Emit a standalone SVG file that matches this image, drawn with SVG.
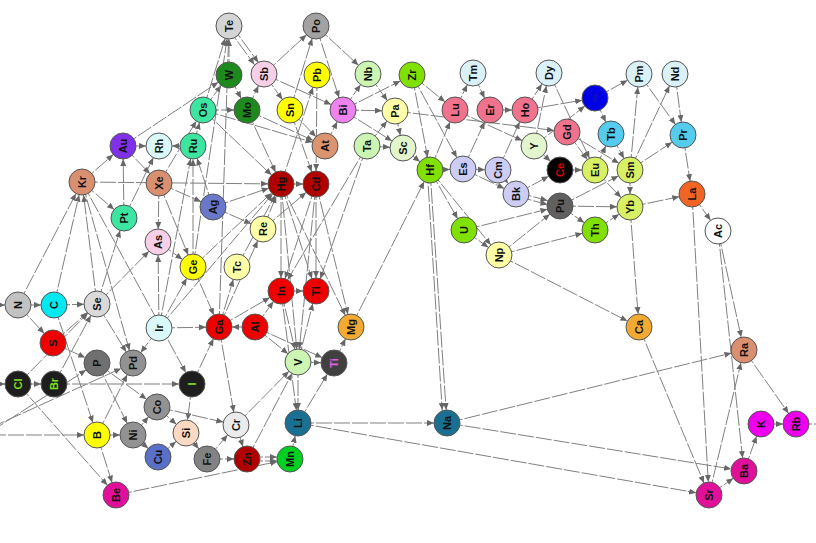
<svg xmlns="http://www.w3.org/2000/svg" width="816" height="543" viewBox="0 0 816 543">
<style>
.e line{stroke:#808080;stroke-width:1;fill:none;stroke-dasharray:16 2;marker-end:url(#a)}
.n circle{stroke:#555;stroke-width:1}
.n text{font-family:"Liberation Sans",Arial,sans-serif;font-size:11px;font-weight:bold;fill:#111;text-anchor:middle;dominant-baseline:central}
</style>
<defs>
<marker id="a" markerUnits="userSpaceOnUse" markerWidth="30" markerHeight="8" refX="20" refY="3" orient="auto"><path d="M0,0 L7,3 L0,6 z" fill="#666"/></marker>
</defs>
<rect width="816" height="543" fill="#fff"/>
<g id="connectors" class="e">
<line x1="231" y1="25" x2="266" y2="73"/><line x1="227" y1="27" x2="262" y2="75"/>
<line x1="264" y1="74" x2="316" y2="26"/>
<line x1="316" y1="26" x2="368" y2="74"/>
<line x1="316" y1="26" x2="343" y2="110"/>
<line x1="290" y1="110" x2="316" y2="26"/>
<line x1="264" y1="74" x2="343" y2="110"/>
<line x1="264" y1="74" x2="290" y2="110"/>
<line x1="229" y1="75" x2="247" y2="110"/>
<line x1="203" y1="110" x2="247" y2="110"/>
<line x1="203" y1="110" x2="229" y2="75"/>
<line x1="247" y1="110" x2="264" y2="74"/>
<line x1="229" y1="75" x2="229" y2="26"/>
<line x1="203" y1="110" x2="229" y2="26"/>
<line x1="193" y1="267" x2="229" y2="26"/>
<line x1="219" y1="327" x2="229" y2="26"/>
<line x1="123" y1="146" x2="229" y2="75"/>
<line x1="82" y1="182" x2="123" y2="146"/>
<line x1="123" y1="146" x2="159" y2="146"/>
<line x1="193" y1="146" x2="159" y2="146"/>
<line x1="123" y1="146" x2="159" y2="183"/>
<line x1="124" y1="218" x2="159" y2="146"/>
<line x1="124" y1="218" x2="123" y2="146"/>
<line x1="159" y1="183" x2="203" y2="110"/>
<line x1="213" y1="207" x2="193" y2="146"/>
<line x1="193" y1="267" x2="193" y2="146"/>
<line x1="159" y1="328" x2="193" y2="146"/>
<line x1="193" y1="146" x2="203" y2="110"/>
<line x1="203" y1="110" x2="281" y2="184"/>
<line x1="247" y1="110" x2="281" y2="184"/>
<line x1="247" y1="110" x2="325" y2="146"/>
<line x1="290" y1="110" x2="325" y2="146"/>
<line x1="203" y1="110" x2="325" y2="146"/>
<line x1="317" y1="75" x2="316" y2="184"/>
<line x1="281" y1="184" x2="317" y2="75"/>
<line x1="325" y1="146" x2="343" y2="110"/>
<line x1="290" y1="110" x2="316" y2="184"/>
<line x1="343" y1="110" x2="395" y2="111"/>
<line x1="343" y1="110" x2="368" y2="74"/>
<line x1="367" y1="146" x2="395" y2="111"/>
<line x1="367" y1="146" x2="403" y2="148"/>
<line x1="368" y1="74" x2="395" y2="111"/>
<line x1="343" y1="110" x2="412" y2="75"/>
<line x1="343" y1="110" x2="403" y2="148"/>
<line x1="395" y1="111" x2="403" y2="148"/>
<line x1="412" y1="75" x2="455" y2="110"/>
<line x1="412" y1="75" x2="463" y2="169"/>
<line x1="455" y1="110" x2="473" y2="73"/>
<line x1="473" y1="73" x2="490" y2="110"/>
<line x1="490" y1="110" x2="525" y2="110"/>
<line x1="525" y1="110" x2="549" y2="73"/>
<line x1="525" y1="110" x2="595" y2="98"/>
<line x1="455" y1="110" x2="534" y2="146"/>
<line x1="395" y1="111" x2="567" y2="132"/>
<line x1="534" y1="146" x2="549" y2="73"/>
<line x1="549" y1="73" x2="595" y2="170"/>
<line x1="534" y1="146" x2="560" y2="170"/>
<line x1="567" y1="132" x2="595" y2="170"/>
<line x1="567" y1="132" x2="630" y2="170"/>
<line x1="498" y1="170" x2="525" y2="110"/>
<line x1="463" y1="169" x2="490" y2="110"/>
<line x1="430" y1="170" x2="455" y2="110"/>
<line x1="430" y1="170" x2="463" y2="169"/>
<line x1="463" y1="169" x2="498" y2="170"/>
<line x1="412" y1="75" x2="430" y2="170"/>
<line x1="403" y1="148" x2="430" y2="170"/>
<line x1="534" y1="146" x2="595" y2="98"/>
<line x1="595" y1="98" x2="639" y2="74"/>
<line x1="595" y1="98" x2="611" y2="134"/>
<line x1="630" y1="170" x2="639" y2="74"/>
<line x1="630" y1="170" x2="675" y2="74"/>
<line x1="639" y1="74" x2="683" y2="135"/>
<line x1="675" y1="74" x2="683" y2="135"/>
<line x1="630" y1="170" x2="683" y2="135"/>
<line x1="683" y1="135" x2="692" y2="194"/>
<line x1="611" y1="134" x2="630" y2="170"/>
<line x1="595" y1="170" x2="611" y2="134"/>
<line x1="630" y1="207" x2="692" y2="194"/>
<line x1="692" y1="194" x2="718" y2="231"/>
<line x1="630" y1="207" x2="639" y2="327"/>
<line x1="718" y1="231" x2="744" y2="350"/>
<line x1="718" y1="231" x2="744" y2="471"/>
<line x1="692" y1="194" x2="709" y2="495"/>
<line x1="639" y1="327" x2="709" y2="495"/>
<line x1="709" y1="495" x2="744" y2="350"/>
<line x1="709" y1="495" x2="744" y2="471"/>
<line x1="744" y1="471" x2="761" y2="424"/>
<line x1="744" y1="350" x2="796" y2="424"/>
<line x1="761" y1="424" x2="796" y2="424"/>
<line x1="796" y1="424" x2="836" y2="424"/>
<line x1="447" y1="423" x2="744" y2="350"/>
<line x1="447" y1="423" x2="744" y2="471"/>
<line x1="298" y1="423" x2="709" y2="495"/>
<line x1="298" y1="423" x2="447" y2="423"/>
<line x1="430" y1="170" x2="447" y2="423"/>
<line x1="426" y1="150" x2="443" y2="423"/>
<line x1="499" y1="255" x2="639" y2="327"/>
<line x1="430" y1="170" x2="464" y2="230"/>
<line x1="430" y1="170" x2="499" y2="255"/>
<line x1="464" y1="230" x2="499" y2="255"/>
<line x1="464" y1="230" x2="560" y2="206"/>
<line x1="499" y1="255" x2="560" y2="206"/>
<line x1="499" y1="255" x2="595" y2="230"/>
<line x1="560" y1="206" x2="595" y2="230"/>
<line x1="516" y1="192" x2="560" y2="204"/><line x1="516" y1="196" x2="560" y2="208"/>
<line x1="560" y1="206" x2="630" y2="207"/>
<line x1="560" y1="206" x2="630" y2="170"/>
<line x1="498" y1="170" x2="516" y2="194"/>
<line x1="463" y1="169" x2="516" y2="194"/>
<line x1="516" y1="194" x2="560" y2="170"/>
<line x1="560" y1="170" x2="595" y2="170"/>
<line x1="595" y1="170" x2="630" y2="207"/>
<line x1="630" y1="170" x2="630" y2="207"/>
<line x1="595" y1="230" x2="630" y2="207"/>
<line x1="82" y1="182" x2="281" y2="184"/>
<line x1="281" y1="184" x2="316" y2="184"/>
<line x1="281" y1="184" x2="281" y2="291"/>
<line x1="281" y1="184" x2="316" y2="291"/>
<line x1="316" y1="184" x2="316" y2="291"/>
<line x1="316" y1="184" x2="281" y2="291"/>
<line x1="281" y1="291" x2="316" y2="291"/>
<line x1="255" y1="327" x2="219" y2="327"/>
<line x1="255" y1="327" x2="281" y2="291"/>
<line x1="219" y1="327" x2="281" y2="291"/>
<line x1="298" y1="362" x2="316" y2="291"/>
<line x1="298" y1="362" x2="334" y2="363"/>
<line x1="334" y1="363" x2="351" y2="327"/>
<line x1="351" y1="327" x2="430" y2="170"/>
<line x1="298" y1="362" x2="298" y2="423"/>
<line x1="298" y1="423" x2="334" y2="363"/>
<line x1="290" y1="459" x2="298" y2="423"/>
<line x1="247" y1="457" x2="290" y2="457"/><line x1="247" y1="461" x2="290" y2="461"/>
<line x1="207" y1="459" x2="247" y2="459"/>
<line x1="207" y1="459" x2="236" y2="425"/>
<line x1="236" y1="425" x2="247" y2="459"/>
<line x1="236" y1="425" x2="298" y2="362"/>
<line x1="247" y1="459" x2="298" y2="362"/>
<line x1="116" y1="495" x2="290" y2="459"/>
<line x1="219" y1="327" x2="236" y2="425"/>
<line x1="255" y1="327" x2="298" y2="362"/>
<line x1="255" y1="327" x2="334" y2="363"/>
<line x1="263" y1="229" x2="281" y2="184"/>
<line x1="263" y1="229" x2="316" y2="184"/>
<line x1="213" y1="207" x2="263" y2="229"/>
<line x1="213" y1="207" x2="281" y2="184"/>
<line x1="237" y1="267" x2="281" y2="184"/>
<line x1="193" y1="267" x2="219" y2="327"/>
<line x1="158" y1="242" x2="193" y2="267"/>
<line x1="159" y1="183" x2="158" y2="242"/>
<line x1="193" y1="267" x2="281" y2="184"/>
<line x1="159" y1="328" x2="219" y2="327"/>
<line x1="219" y1="327" x2="263" y2="229"/>
<line x1="219" y1="327" x2="237" y2="267"/>
<line x1="316" y1="184" x2="351" y2="327"/>
<line x1="281" y1="184" x2="351" y2="327"/>
<line x1="281" y1="184" x2="298" y2="362"/>
<line x1="281" y1="291" x2="298" y2="362"/>
<line x1="281" y1="291" x2="298" y2="423"/>
<line x1="316" y1="184" x2="298" y2="362"/>
<line x1="367" y1="146" x2="316" y2="291"/>
<line x1="367" y1="146" x2="281" y2="291"/>
<line x1="-10" y1="305" x2="18" y2="305"/>
<line x1="18" y1="305" x2="54" y2="305"/>
<line x1="54" y1="305" x2="97" y2="304"/>
<line x1="18" y1="305" x2="53" y2="343"/>
<line x1="18" y1="305" x2="82" y2="182"/>
<line x1="54" y1="305" x2="82" y2="182"/>
<line x1="53" y1="343" x2="97" y2="363"/>
<line x1="97" y1="304" x2="133" y2="363"/>
<line x1="97" y1="304" x2="82" y2="182"/>
<line x1="82" y1="182" x2="124" y2="218"/>
<line x1="82" y1="182" x2="133" y2="363"/>
<line x1="82" y1="182" x2="192" y2="384"/>
<line x1="159" y1="328" x2="133" y2="363"/>
<line x1="159" y1="328" x2="158" y2="242"/>
<line x1="159" y1="328" x2="193" y2="267"/>
<line x1="97" y1="363" x2="157" y2="407"/>
<line x1="97" y1="363" x2="133" y2="435"/>
<line x1="-10" y1="384" x2="18" y2="384"/>
<line x1="18" y1="384" x2="54" y2="384"/>
<line x1="54" y1="384" x2="192" y2="384"/>
<line x1="18" y1="384" x2="116" y2="495"/>
<line x1="97" y1="435" x2="116" y2="495"/>
<line x1="54" y1="305" x2="97" y2="435"/>
<line x1="-10" y1="435" x2="97" y2="435"/>
<line x1="-10" y1="428" x2="133" y2="363"/>
<line x1="-10" y1="432" x2="97" y2="363"/>
<line x1="97" y1="435" x2="133" y2="435"/>
<line x1="133" y1="435" x2="158" y2="457"/>
<line x1="133" y1="435" x2="157" y2="407"/>
<line x1="157" y1="407" x2="186" y2="433"/>
<line x1="158" y1="457" x2="186" y2="433"/>
<line x1="186" y1="433" x2="207" y2="459"/>
<line x1="192" y1="384" x2="186" y2="433"/>
<line x1="97" y1="435" x2="133" y2="363"/>
<line x1="53" y1="343" x2="97" y2="304"/>
<line x1="18" y1="384" x2="97" y2="304"/>
<line x1="54" y1="384" x2="97" y2="304"/>
<line x1="97" y1="304" x2="124" y2="218"/>
<line x1="97" y1="304" x2="158" y2="242"/>
<line x1="159" y1="183" x2="193" y2="267"/>
<line x1="159" y1="183" x2="213" y2="207"/>
<line x1="192" y1="384" x2="219" y2="327"/>
<line x1="159" y1="328" x2="281" y2="184"/>
<line x1="157" y1="407" x2="236" y2="425"/>
</g>
<g id="nodes" class="n">
<g id="n-Te"><circle cx="229" cy="26" r="13" fill="#d4d4d4"/><text transform="translate(229,26) rotate(-90)">Te</text></g>
<g id="n-Po"><circle cx="316" cy="26" r="13" fill="#a2a2a2"/><text transform="translate(316,26) rotate(-90)">Po</text></g>
<g id="n-W"><circle cx="229" cy="75" r="13" fill="#1e8a1e"/><text transform="translate(229,75) rotate(-90)">W</text></g>
<g id="n-Sb"><circle cx="264" cy="74" r="13" fill="#f7d0e8"/><text transform="translate(264,74) rotate(-90)">Sb</text></g>
<g id="n-Pb"><circle cx="317" cy="75" r="13" fill="#ffff00"/><text transform="translate(317,75) rotate(-90)">Pb</text></g>
<g id="n-Nb"><circle cx="368" cy="74" r="13" fill="#ccf5b4"/><text transform="translate(368,74) rotate(-90)">Nb</text></g>
<g id="n-Zr"><circle cx="412" cy="75" r="13" fill="#80e000"/><text transform="translate(412,75) rotate(-90)">Zr</text></g>
<g id="n-Tm"><circle cx="473" cy="73" r="13" fill="#daf1f8"/><text transform="translate(473,73) rotate(-90)">Tm</text></g>
<g id="n-Dy"><circle cx="549" cy="73" r="13" fill="#daf1f8"/><text transform="translate(549,73) rotate(-90)">Dy</text></g>
<g id="n-Pm"><circle cx="639" cy="74" r="13" fill="#daf1f8"/><text transform="translate(639,74) rotate(-90)">Pm</text></g>
<g id="n-Nd"><circle cx="675" cy="74" r="13" fill="#daf1f8"/><text transform="translate(675,74) rotate(-90)">Nd</text></g>
<g id="n-Os"><circle cx="203" cy="110" r="13" fill="#3ce6a0"/><text transform="translate(203,110) rotate(-90)">Os</text></g>
<g id="n-Mo"><circle cx="247" cy="110" r="13" fill="#1e8a1e"/><text transform="translate(247,110) rotate(-90)">Mo</text></g>
<g id="n-Sn"><circle cx="290" cy="110" r="13" fill="#ffff00"/><text transform="translate(290,110) rotate(-90)">Sn</text></g>
<g id="n-Bi"><circle cx="343" cy="110" r="13" fill="#ee82ee"/><text transform="translate(343,110) rotate(-90)">Bi</text></g>
<g id="n-Pa"><circle cx="395" cy="111" r="13" fill="#ffffa8"/><text transform="translate(395,111) rotate(-90)">Pa</text></g>
<g id="n-Lu"><circle cx="455" cy="110" r="13" fill="#f0728c"/><text transform="translate(455,110) rotate(-90)">Lu</text></g>
<g id="n-Er"><circle cx="490" cy="110" r="13" fill="#f0728c"/><text transform="translate(490,110) rotate(-90)">Er</text></g>
<g id="n-Ho"><circle cx="525" cy="110" r="13" fill="#f0728c"/><text transform="translate(525,110) rotate(-90)">Ho</text></g>
<g id="n-Am"><circle cx="595" cy="98" r="13" fill="#0000e6"/><text transform="translate(595,98) rotate(-90)" style="fill:#1a1aa0;font-size:6px">Am</text></g>
<g id="n-Au"><circle cx="123" cy="146" r="13" fill="#8030e8"/><text transform="translate(123,146) rotate(-90)">Au</text></g>
<g id="n-Rh"><circle cx="159" cy="146" r="13" fill="#daf8f8"/><text transform="translate(159,146) rotate(-90)">Rh</text></g>
<g id="n-Ru"><circle cx="193" cy="146" r="13" fill="#3ce6a0"/><text transform="translate(193,146) rotate(-90)">Ru</text></g>
<g id="n-At"><circle cx="325" cy="146" r="13" fill="#da9570"/><text transform="translate(325,146) rotate(-90)">At</text></g>
<g id="n-Ta"><circle cx="367" cy="146" r="13" fill="#ccf5b4"/><text transform="translate(367,146) rotate(-90)">Ta</text></g>
<g id="n-Sc"><circle cx="403" cy="148" r="13" fill="#e2f5cc"/><text transform="translate(403,148) rotate(-90)">Sc</text></g>
<g id="n-Y"><circle cx="534" cy="146" r="13" fill="#e2f5cc"/><text transform="translate(534,146) rotate(-90)">Y</text></g>
<g id="n-Gd"><circle cx="567" cy="132" r="13" fill="#f0728c"/><text transform="translate(567,132) rotate(-90)">Gd</text></g>
<g id="n-Tb"><circle cx="611" cy="134" r="13" fill="#55ccee"/><text transform="translate(611,134) rotate(-90)">Tb</text></g>
<g id="n-Pr"><circle cx="683" cy="135" r="13" fill="#55ccee"/><text transform="translate(683,135) rotate(-90)">Pr</text></g>
<g id="n-Kr"><circle cx="82" cy="182" r="13" fill="#da9070"/><text transform="translate(82,182) rotate(-90)">Kr</text></g>
<g id="n-Xe"><circle cx="159" cy="183" r="13" fill="#da9070"/><text transform="translate(159,183) rotate(-90)">Xe</text></g>
<g id="n-Hg"><circle cx="281" cy="184" r="13" fill="#b00000"/><text transform="translate(281,184) rotate(-90)">Hg</text></g>
<g id="n-Cd"><circle cx="316" cy="184" r="13" fill="#b00000"/><text transform="translate(316,184) rotate(-90)">Cd</text></g>
<g id="n-Hf"><circle cx="430" cy="170" r="13" fill="#80e000"/><text transform="translate(430,170) rotate(-90)">Hf</text></g>
<g id="n-Es"><circle cx="463" cy="169" r="13" fill="#ccccf5"/><text transform="translate(463,169) rotate(-90)">Es</text></g>
<g id="n-Cm"><circle cx="498" cy="170" r="13" fill="#ccccf5"/><text transform="translate(498,170) rotate(-90)">Cm</text></g>
<g id="n-Ce"><circle cx="560" cy="170" r="13" fill="#000"/><text transform="translate(560,170) rotate(-90)" style="fill:#e00000">Ce</text></g>
<g id="n-Eu"><circle cx="595" cy="170" r="13" fill="#d8f064"/><text transform="translate(595,170) rotate(-90)">Eu</text></g>
<g id="n-Sm"><circle cx="630" cy="170" r="13" fill="#d8f064"/><text transform="translate(630,170) rotate(-90)">Sm</text></g>
<g id="n-Bk"><circle cx="516" cy="194" r="13" fill="#ccccf5"/><text transform="translate(516,194) rotate(-90)">Bk</text></g>
<g id="n-Pu"><circle cx="560" cy="206" r="13" fill="#606060"/><text transform="translate(560,206) rotate(-90)">Pu</text></g>
<g id="n-Yb"><circle cx="630" cy="207" r="13" fill="#d8f064"/><text transform="translate(630,207) rotate(-90)">Yb</text></g>
<g id="n-La"><circle cx="692" cy="194" r="13" fill="#f26422"/><text transform="translate(692,194) rotate(-90)">La</text></g>
<g id="n-Pt"><circle cx="124" cy="218" r="13" fill="#3ce6a0"/><text transform="translate(124,218) rotate(-90)">Pt</text></g>
<g id="n-Ag"><circle cx="213" cy="207" r="13" fill="#6a78cc"/><text transform="translate(213,207) rotate(-90)">Ag</text></g>
<g id="n-Re"><circle cx="263" cy="229" r="13" fill="#ffffa8"/><text transform="translate(263,229) rotate(-90)">Re</text></g>
<g id="n-U"><circle cx="464" cy="230" r="13" fill="#80e000"/><text transform="translate(464,230) rotate(-90)">U</text></g>
<g id="n-Th"><circle cx="595" cy="230" r="13" fill="#80e000"/><text transform="translate(595,230) rotate(-90)">Th</text></g>
<g id="n-Ac"><circle cx="718" cy="231" r="13" fill="#ffffff"/><text transform="translate(718,231) rotate(-90)">Ac</text></g>
<g id="n-As"><circle cx="158" cy="242" r="13" fill="#f7d0e8"/><text transform="translate(158,242) rotate(-90)">As</text></g>
<g id="n-Ge"><circle cx="193" cy="267" r="13" fill="#ffff00"/><text transform="translate(193,267) rotate(-90)">Ge</text></g>
<g id="n-Tc"><circle cx="237" cy="267" r="13" fill="#ffffa8"/><text transform="translate(237,267) rotate(-90)">Tc</text></g>
<g id="n-Np"><circle cx="499" cy="255" r="13" fill="#ffffa8"/><text transform="translate(499,255) rotate(-90)">Np</text></g>
<g id="n-N"><circle cx="18" cy="305" r="13" fill="#c2c2c2"/><text transform="translate(18,305) rotate(-90)">N</text></g>
<g id="n-C"><circle cx="54" cy="305" r="13" fill="#00e8f0"/><text transform="translate(54,305) rotate(-90)">C</text></g>
<g id="n-Se"><circle cx="97" cy="304" r="13" fill="#dadada"/><text transform="translate(97,304) rotate(-90)">Se</text></g>
<g id="n-In"><circle cx="281" cy="291" r="13" fill="#ee0000"/><text transform="translate(281,291) rotate(-90)">In</text></g>
<g id="n-Tl"><circle cx="316" cy="291" r="13" fill="#ee0000"/><text transform="translate(316,291) rotate(-90)">Tl</text></g>
<g id="n-Ir"><circle cx="159" cy="328" r="13" fill="#daf8f8"/><text transform="translate(159,328) rotate(-90)">Ir</text></g>
<g id="n-Ga"><circle cx="219" cy="327" r="13" fill="#ee0000"/><text transform="translate(219,327) rotate(-90)">Ga</text></g>
<g id="n-Al"><circle cx="255" cy="327" r="13" fill="#ee0000"/><text transform="translate(255,327) rotate(-90)">Al</text></g>
<g id="n-Mg"><circle cx="351" cy="327" r="13" fill="#f2aa32"/><text transform="translate(351,327) rotate(-90)">Mg</text></g>
<g id="n-Ca"><circle cx="639" cy="327" r="13" fill="#f2aa32"/><text transform="translate(639,327) rotate(-90)">Ca</text></g>
<g id="n-S"><circle cx="53" cy="343" r="13" fill="#ee0000"/><text transform="translate(53,343) rotate(-90)">S</text></g>
<g id="n-P"><circle cx="97" cy="363" r="13" fill="#707070"/><text transform="translate(97,363) rotate(-90)">P</text></g>
<g id="n-Pd"><circle cx="133" cy="363" r="13" fill="#929292"/><text transform="translate(133,363) rotate(-90)">Pd</text></g>
<g id="n-V"><circle cx="298" cy="362" r="13" fill="#ccf5b4"/><text transform="translate(298,362) rotate(-90)">V</text></g>
<g id="n-Ti"><circle cx="334" cy="363" r="13" fill="#404040"/><text transform="translate(334,363) rotate(-90)" style="fill:#e060e0">Ti</text></g>
<g id="n-Ra"><circle cx="744" cy="350" r="13" fill="#da9070"/><text transform="translate(744,350) rotate(-90)">Ra</text></g>
<g id="n-Cl"><circle cx="18" cy="384" r="13" fill="#1e1e1e"/><text transform="translate(18,384) rotate(-90)" style="fill:#7fe020">Cl</text></g>
<g id="n-Br"><circle cx="54" cy="384" r="13" fill="#1e1e1e"/><text transform="translate(54,384) rotate(-90)" style="fill:#7fe020">Br</text></g>
<g id="n-I"><circle cx="192" cy="384" r="13" fill="#1e1e1e"/><text transform="translate(192,384) rotate(-90)" style="fill:#7fe020">I</text></g>
<g id="n-Co"><circle cx="157" cy="407" r="13" fill="#929292"/><text transform="translate(157,407) rotate(-90)">Co</text></g>
<g id="n-B"><circle cx="97" cy="435" r="13" fill="#ffff00"/><text transform="translate(97,435) rotate(-90)">B</text></g>
<g id="n-Ni"><circle cx="133" cy="435" r="13" fill="#929292"/><text transform="translate(133,435) rotate(-90)">Ni</text></g>
<g id="n-Si"><circle cx="186" cy="433" r="13" fill="#fcd9c2"/><text transform="translate(186,433) rotate(-90)">Si</text></g>
<g id="n-Cr"><circle cx="236" cy="425" r="13" fill="#ebebeb"/><text transform="translate(236,425) rotate(-90)">Cr</text></g>
<g id="n-Li"><circle cx="298" cy="423" r="13" fill="#1a7092"/><text transform="translate(298,423) rotate(-90)">Li</text></g>
<g id="n-Na"><circle cx="447" cy="423" r="13" fill="#1a7092"/><text transform="translate(447,423) rotate(-90)">Na</text></g>
<g id="n-K"><circle cx="761" cy="424" r="13" fill="#ee00ee"/><text transform="translate(761,424) rotate(-90)">K</text></g>
<g id="n-Rb"><circle cx="796" cy="424" r="13" fill="#ee00ee"/><text transform="translate(796,424) rotate(-90)">Rb</text></g>
<g id="n-Cu"><circle cx="158" cy="457" r="13" fill="#5a70c8"/><text transform="translate(158,457) rotate(-90)">Cu</text></g>
<g id="n-Fe"><circle cx="207" cy="459" r="13" fill="#828282"/><text transform="translate(207,459) rotate(-90)">Fe</text></g>
<g id="n-Zn"><circle cx="247" cy="459" r="13" fill="#b00000"/><text transform="translate(247,459) rotate(-90)">Zn</text></g>
<g id="n-Mn"><circle cx="290" cy="459" r="13" fill="#00d020"/><text transform="translate(290,459) rotate(-90)">Mn</text></g>
<g id="n-Ba"><circle cx="744" cy="471" r="13" fill="#e0109a"/><text transform="translate(744,471) rotate(-90)">Ba</text></g>
<g id="n-Sr"><circle cx="709" cy="495" r="13" fill="#e0109a"/><text transform="translate(709,495) rotate(-90)">Sr</text></g>
<g id="n-Be"><circle cx="116" cy="495" r="13" fill="#e0109a"/><text transform="translate(116,495) rotate(-90)">Be</text></g>
</g>
</svg>
